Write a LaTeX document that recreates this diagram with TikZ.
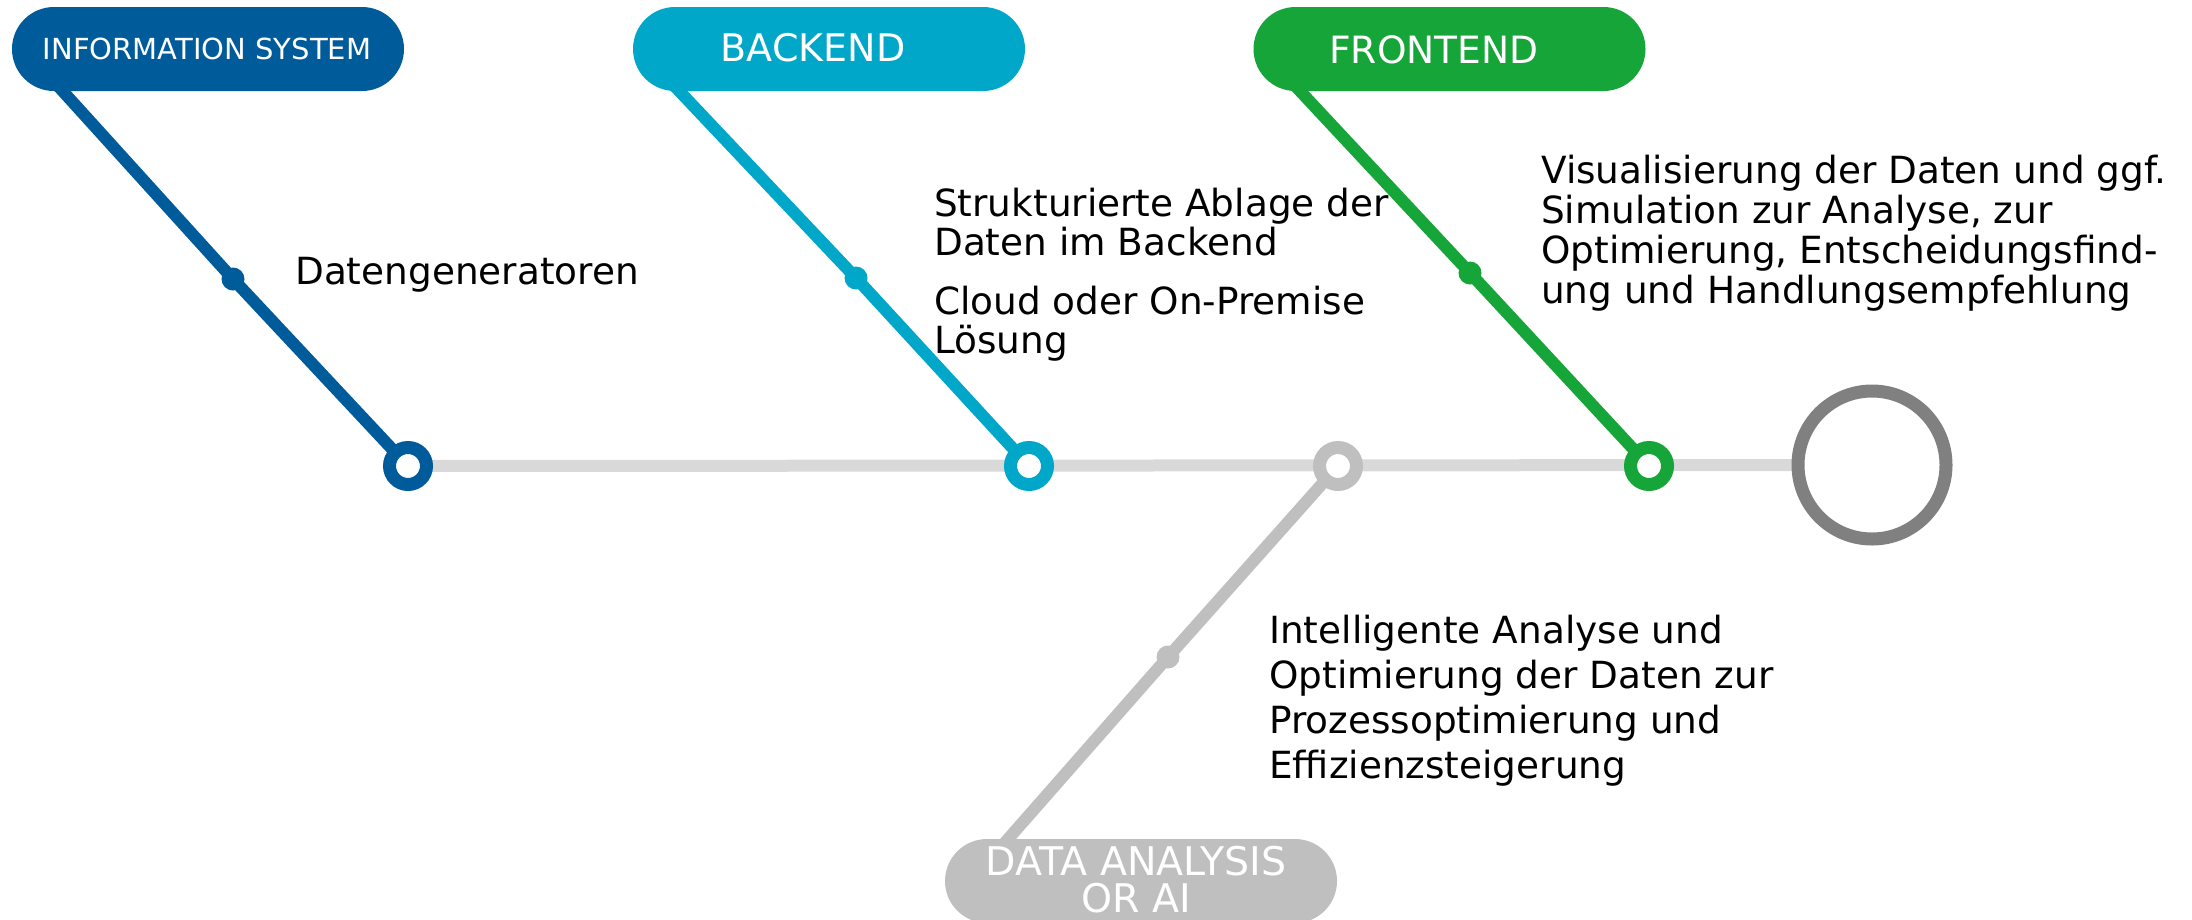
\documentclass[tikz,border=0pt]{standalone}
\usepackage{fontspec}
\setmainfont{DejaVu Sans}
\usetikzlibrary{calc}

\definecolor{isblue}{RGB}{0,91,154}
\definecolor{becyan}{RGB}{0,167,200}
\definecolor{fegreen}{RGB}{21,165,56}
\definecolor{aigray}{RGB}{191,191,191}
\definecolor{trackgray}{RGB}{217,217,217}
\definecolor{goalgray}{RGB}{128,128,128}

\pgfdeclarelayer{bg}
\pgfsetlayers{bg,main}

\tikzset{
  pill/.style={rectangle, rounded corners=42pt, minimum width=392pt,
    minimum height=84pt, inner sep=0pt, fill=#1},
  station/.style={circle, draw=#1, line width=13pt, fill=white,
    minimum size=37pt, inner sep=0pt},
  dot/.style={circle, fill=#1, minimum size=23pt, inner sep=0pt},
  branch/.style={draw=#1, line width=12pt},
  track/.style={draw=trackgray, line width=12pt},
  pilltext/.style={text=white, inner sep=0pt, font=\fontsize{#1}{#1}\selectfont},
  body/.style={anchor=north west, inner sep=0pt, align=left,
    font=\fontsize{37.4}{#1}\selectfont,
    execute at begin node={\rule{0pt}{30pt}}},
}

\begin{document}
\begin{tikzpicture}[x=1pt, y=-1pt]
\useasboundingbox (0,0) rectangle (2192,919);

% stations on the main track
\node[station=isblue]  (s1) at (408,466) {};
\node[station=becyan]  (s2) at (1029,466) {};
\node[station=aigray]  (s3) at (1338,466) {};
\node[station=fegreen] (s4) at (1649,466) {};
\node[circle, draw=goalgray, line width=13pt, fill=white,
      minimum size=148pt, inner sep=0pt] (goal) at (1872,465) {};

% midpoints of the branches
\node[dot=isblue]  (d1) at (233,279) {};
\node[dot=becyan]  (d2) at (856,278) {};
\node[dot=fegreen] (d3) at (1470,273) {};
\node[dot=aigray]  (d4) at (1168,657) {};

% branch ends hidden under the labels
\coordinate (t1) at (49,76);
\coordinate (t2) at (665,76);
\coordinate (t3) at (1286,76);
\coordinate (t4) at (994,855);

% label pills
\node[pill=isblue]  (is) at (208,49) {};
\node[pilltext=29] (istxt) at (207,49) {INFORMATION SYSTEM};
\node[pill=becyan]  (be) at (829,49) {};
\node[pilltext=38] (betxt) at (813,48) {BACKEND};
\node[pill=fegreen] (fe) at (1449.5,49) {};
\node[pilltext=37.6] (fetxt) at (1434,49.5) {FRONTEND};
\node[pill=aigray]  (ai) at (1141,881) {};
\node[text=white, inner sep=0pt, anchor=north, align=center,
      font=\fontsize{39.5}{37}\selectfont] (aitxt) at (1136,846)
      {DATA ANALYSIS\\OR AI};

% track and branches behind everything
\begin{pgfonlayer}{bg}
  \draw[track] (s1.center) -- (goal.center);
  \draw[branch=isblue]  (t1) -- (d1.center) -- (s1.center);
  \draw[branch=becyan]  (t2) -- (d2.center) -- (s2.center);
  \draw[branch=fegreen] (t3) -- (d3.center) -- (s4.center);
  \draw[branch=aigray]  (s3.center) -- (d4.center) -- (t4);
\end{pgfonlayer}

% descriptions
\node[body=40] (txis) at (295,254) {Datengeneratoren};
\node[body=39] (txbe1) at (934,188) {Strukturierte Ablage der\\Daten im Backend};
\node[body=39] (txbe2) at (934,286) {Cloud oder On-Premise\\Lösung};
\node[body=40] (txfe) at (1541,155)
  {Visualisierung der Daten und ggf.\\Simulation zur Analyse, zur\\Optimierung, Entscheidungsfind-\\ung und Handlungsempfehlung};
\node[body=45] (txai) at (1269,615)
  {Intelligente Analyse und\\Optimierung der Daten zur\\Prozessoptimierung und\\Effizienzsteigerung};
\end{tikzpicture}
\end{document}
